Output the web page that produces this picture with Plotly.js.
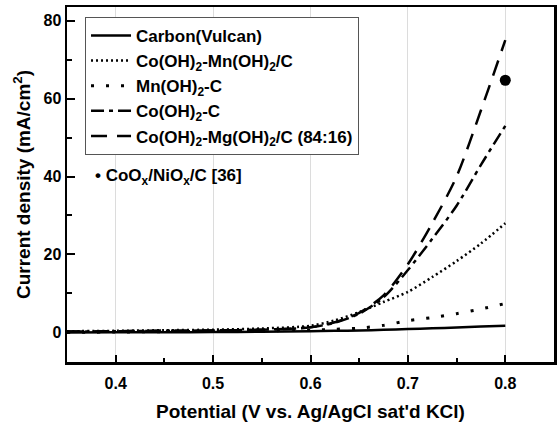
<!DOCTYPE html>
<html>
<head>
<meta charset="utf-8">
<script src="https://cdn.plot.ly/plotly-3.0.1.min.js"></script>
<style>html,body{margin:0;padding:0;background:#fff;}#chart{width:558px;height:422px;}</style>
</head>
<body>
<div id="chart"></div>
<script>
// Potential (V vs. Ag/AgCl sat'd KCl)
const potential = [0.35, 0.40, 0.45, 0.50, 0.55, 0.60, 0.625, 0.65, 0.675, 0.70, 0.725, 0.75, 0.775, 0.80];
// Current density (mA/cm2)
const carbonVulcan = [0.0, 0.02, 0.05, 0.08, 0.15, 0.3, 0.4, 0.5, 0.65, 0.85, 1.05, 1.25, 1.5, 1.7];
const coMnC       = [0.3, 0.4, 0.55, 0.7, 1.0, 1.7, 3.1, 5.2, 7.8, 10.4, 14.2, 18.3, 22.8, 28.0];
const mnC         = [0.0, 0.1, 0.2, 0.3, 0.4, 0.6, 0.8, 1.1, 1.8, 3.0, 3.8, 4.8, 6.0, 7.4];
const coC         = [0.2, 0.3, 0.4, 0.5, 0.7, 1.3, 2.5, 4.8, 9.0, 16.0, 24.0, 32.5, 43.0, 53.0];
const coMgC       = [0.2, 0.3, 0.4, 0.5, 0.7, 1.3, 2.6, 5.0, 9.5, 17.5, 28.0, 40.0, 57.0, 75.0];
// Literature point CoOx/NiOx/C [36]
const refPotential = [0.8];
const refCurrent = [64.7];

const seriesNames = [
  'Carbon(Vulcan)',
  'Co(OH)<sub>2</sub>-Mn(OH)<sub>2</sub>/C',
  'Mn(OH)<sub>2</sub>-C',
  'Co(OH)<sub>2</sub>-C',
  'Co(OH)<sub>2</sub>-Mg(OH)<sub>2</sub>/C (84:16)'
];
const refName = 'CoO<sub>x</sub>/NiO<sub>x</sub>/C [36]';
const xTicks = [0.4, 0.5, 0.6, 0.7, 0.8];
const yTicks = [0, 20, 40, 60, 80];

const FONT = 'Liberation Sans, Arial, sans-serif';
const seriesY = [carbonVulcan, coMnC, mnC, coC, coMgC];
const dashes = ['solid', '2px,3px', '3px,12px', '13px,5px,4px,5px', '16px,10px'];
const widths = [2.5, 2.5, 3, 2.5, 2.5];

const traces = seriesY.map((ys, i) => ({
  x: potential, y: ys, type: 'scatter', mode: 'lines', name: seriesNames[i],
  line: {color: '#000', width: widths[i], dash: dashes[i], shape: 'spline', smoothing: 0.8}
}));
traces.push({
  x: refPotential, y: refCurrent, type: 'scatter', mode: 'markers', name: refName,
  showlegend: false, marker: {color: '#000', size: 11}
});

const layout = {
  width: 558, height: 422,
  margin: {l: 67, r: 4, t: 7, b: 60},
  paper_bgcolor: '#fff', plot_bgcolor: '#fff',
  font: {family: FONT, color: '#000', size: 16, weight: 'bold'},
  showlegend: true,
  legend: {
    x: 0.037, y: 0.972, xanchor: 'left', yanchor: 'top',
    bgcolor: '#fff', bordercolor: '#555', borderwidth: 1,
    font: {family: FONT, size: 17, color: '#000', weight: 'bold'},
    itemwidth: 40, tracegroupgap: 0
  },
  xaxis: {
    range: [0.35, 0.85], tickvals: xTicks, ticktext: xTicks.map(v => v.toFixed(1)),
    ticks: 'inside', ticklen: 7, tickwidth: 2, tickcolor: '#000', ticklabelstandoff: 5,
    minor: {dtick: 0.05, ticks: 'inside', ticklen: 4, tickwidth: 2, tickcolor: '#000', showgrid: false},
    showgrid: true, gridcolor: '#dcdcdc', gridwidth: 1,
    showline: true, linecolor: '#000', linewidth: 2.5, mirror: true,
    zeroline: false,
    tickfont: {family: FONT, size: 16, weight: 'bold'},
    title: {text: "Potential (V vs. Ag/AgCl sat'd KCl)", font: {family: FONT, size: 19, weight: 'bold'}, standoff: 14}
  },
  yaxis: {
    range: [-7.6, 83.5], tickvals: yTicks,
    ticks: 'inside', ticklen: 8, tickwidth: 2, tickcolor: '#000',
    minor: {dtick: 10, ticks: 'inside', ticklen: 5, tickwidth: 2, tickcolor: '#000', showgrid: false},
    showgrid: false,
    showline: true, linecolor: '#000', linewidth: 2.5, mirror: true,
    zeroline: false,
    tickfont: {family: FONT, size: 16, weight: 'bold'},
    title: {text: 'Current density (mA/cm<sup>2</sup>)', font: {family: FONT, size: 19, weight: 'bold'}, standoff: 8}
  },
  annotations: [{
    xref: 'paper', yref: 'paper', x: (93 - 67) / 487, y: (362 - 177) / 355,
    xanchor: 'left', yanchor: 'middle', showarrow: false,
    text: '\u2022 ' + refName,
    font: {family: FONT, size: 17, color: '#000', weight: 'bold'}
  }]
};

Plotly.newPlot('chart', traces, layout, {displayModeBar: false, staticPlot: true});
</script>
</body>
</html>
